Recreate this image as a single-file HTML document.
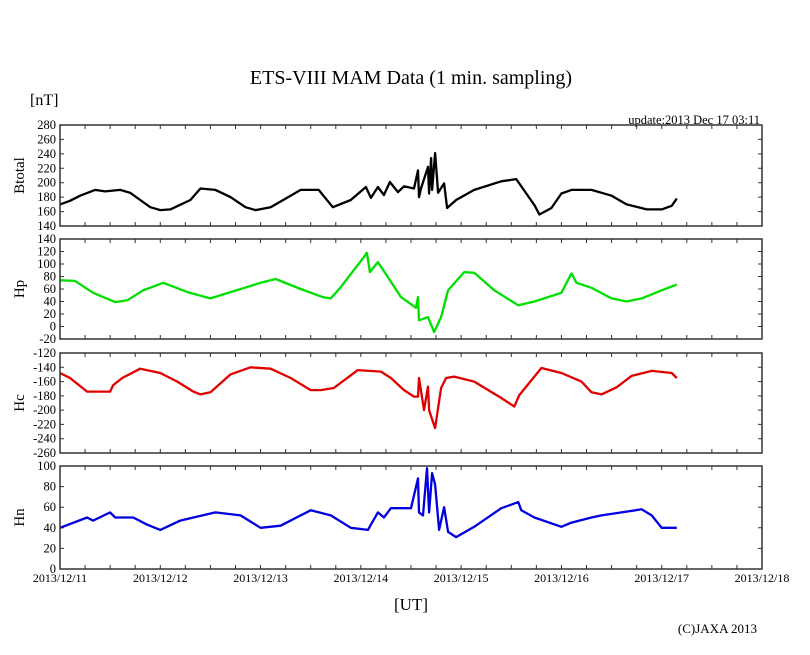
<!DOCTYPE html>
<html><head><meta charset="utf-8"><style>
body{margin:0;background:#fff;}
svg{display:block;font-family:"Liberation Serif",serif;}
</style></head><body>
<svg id="chart" width="810" height="655" viewBox="0 0 810 655" xmlns="http://www.w3.org/2000/svg">
<text x="411" y="84" text-anchor="middle" font-size="20">ETS-VIII MAM Data (1 min. sampling)</text>
<text x="30" y="105" font-size="16">[nT]</text>
<text x="760" y="124" text-anchor="end" font-size="12.5">update:2013 Dec 17 03:11</text>
<text x="411" y="610" text-anchor="middle" font-size="17">[UT]</text>
<text x="757" y="633" text-anchor="end" font-size="13">(C)JAXA 2013</text>
<g id="plots"></g>
</svg>
<script>
const xTickLabels=["2013/12/11","2013/12/12","2013/12/13","2013/12/14","2013/12/15","2013/12/16","2013/12/17","2013/12/18"];
const panelNames=["Btotal","Hp","Hc","Hn"];
const panelMin=[140,-20,-260,0];
const panelMax=[280,140,-120,100];
const panelStep=[20,20,20,20];
const panelColors=["#000000","#00e000","#e00000","#0000e0"];
const btT=[0,.1,.2,.35,.45,.6,.7,.8,.9,1.0,1.1,1.3,1.4,1.55,1.7,1.85,1.95,2.1,2.25,2.4,2.58,2.72,2.9,3.05,3.1,3.17,3.23,3.29,3.37,3.43,3.53,3.57,3.58,3.6,3.67,3.68,3.7,3.71,3.74,3.77,3.83,3.86,3.95,4.13,4.4,4.55,4.73,4.78,4.9,5.0,5.1,5.3,5.5,5.65,5.85,6.0,6.1,6.15];
const btV=[170,175,182,190,188,190,186,176,166,162,163,176,192,190,180,166,162,166,178,190,190,166,176,194,179,194,183,201,187,195,192,217,180,192,222,185,234,190,241,186,199,165,176,190,202,205,169,156,165,185,190,190,182,170,163,163,168,178];
const hpT=[0,.15,.33,.55,.67,.83,1.03,1.27,1.5,1.7,2.0,2.15,2.4,2.62,2.7,2.8,3.03,3.06,3.09,3.17,3.27,3.4,3.55,3.57,3.58,3.67,3.73,3.8,3.87,4.03,4.13,4.33,4.57,4.73,5.0,5.1,5.15,5.3,5.5,5.65,5.8,6.0,6.15];
const hpV=[74,73,54,39,42,58,70,55,45,55,70,76,60,47,45,63,111,118,87,103,79,47,30,47,10,15,-9,15,58,87,86,58,34,40,54,85,70,62,45,40,45,58,67];
const hcT=[0,.1,.27,.5,.53,.62,.8,1.0,1.17,1.33,1.4,1.5,1.7,1.9,2.1,2.3,2.5,2.6,2.73,2.97,3.2,3.3,3.43,3.53,3.57,3.58,3.63,3.67,3.68,3.72,3.74,3.8,3.85,3.93,4.13,4.4,4.53,4.58,4.8,5.0,5.2,5.3,5.4,5.55,5.7,5.9,6.1,6.15];
const hcV=[-148,-155,-174,-174,-165,-155,-142,-148,-160,-174,-178,-175,-150,-140,-142,-155,-172,-172,-169,-144,-146,-155,-172,-181,-181,-155,-200,-167,-200,-217,-225,-169,-155,-153,-160,-183,-195,-179,-141,-148,-160,-175,-178,-168,-152,-145,-148,-155];
const hnT=[0,.27,.33,.5,.55,.73,.87,1.0,1.2,1.33,1.55,1.8,2.0,2.2,2.4,2.5,2.7,2.9,3.07,3.17,3.23,3.3,3.5,3.57,3.58,3.62,3.66,3.68,3.71,3.74,3.78,3.83,3.87,3.95,4.13,4.4,4.57,4.6,4.73,5.0,5.1,5.3,5.4,5.6,5.8,5.9,6.0,6.15];
const hnV=[40,50,47,55,50,50,43,38,47,50,55,52,40,42,52,57,52,40,38,55,50,59,59,88,55,52,98,55,93,82,38,60,36,31,41,59,65,57,50,41,45,50,52,55,58,52,40,40];

const svg=document.getElementById('plots');
const NS="http://www.w3.org/2000/svg";
const L=60,R=762;
const tops=[125,239,353,466], bots=[226,339,453,569];
const xs=t=>L+(R-L)*t/7;
function mk(tag,attrs){const e=document.createElementNS(NS,tag);for(const k in attrs)e.setAttribute(k,attrs[k]);return e;}
const tSets=[btT,hpT,hcT,hnT], vSets=[btV,hpV,hcV,hnV];
for(let p=0;p<4;p++){
  const top=tops[p],bot=bots[p],mn=panelMin[p],mx=panelMax[p];
  const ys=v=>bot-(v-mn)/(mx-mn)*(bot-top);
  const g=mk('g',{});
  
  
  svg.appendChild(g);
  let d='';
  for(let i=0;i<=28;i++){const x=xs(i/4);d+=`M${x},${top}v4M${x},${bot}v-4`;}
  for(let v=mn;v<=mx;v+=panelStep[p]){const y=ys(v);d+=`M${L},${y}h4M${R},${y}h-4`;
    const tl=mk('text',{x:L-4,y:y+4,'text-anchor':'end','font-size':'12.5'});
    
    
    tl.textContent=v;g.appendChild(tl);}
  const ticks=mk('path',{d:d,stroke:'#333','stroke-width':1,fill:'none'});
  
  
  g.appendChild(ticks);
  let pd='';
  tSets[p].forEach((t,i)=>{pd+=(i?'L':'M')+xs(t).toFixed(1)+','+ys(vSets[p][i]).toFixed(1);});
  const line=mk('path',{d:pd,stroke:panelColors[p],'stroke-width':2.3,fill:'none','stroke-linejoin':'round'});
  
  
  g.appendChild(line);
  const fr=mk('rect',{x:L,y:top,width:R-L,height:bot-top,fill:'none',stroke:'#333','stroke-width':1.5});
  
  
  g.appendChild(fr);
  const cy=(top+bot)/2;
  const an=mk('text',{x:24,y:cy,'text-anchor':'middle','font-size':'15',transform:`rotate(-90 24 ${cy})`});
  
  
  an.textContent=panelNames[p];g.appendChild(an);
}
xTickLabels.forEach((s,i)=>{
  const t=mk('text',{x:xs(i),y:582,'text-anchor':'middle','font-size':'12'});
  
  
  t.textContent=s;svg.appendChild(t);
});
</script>
</body></html>
